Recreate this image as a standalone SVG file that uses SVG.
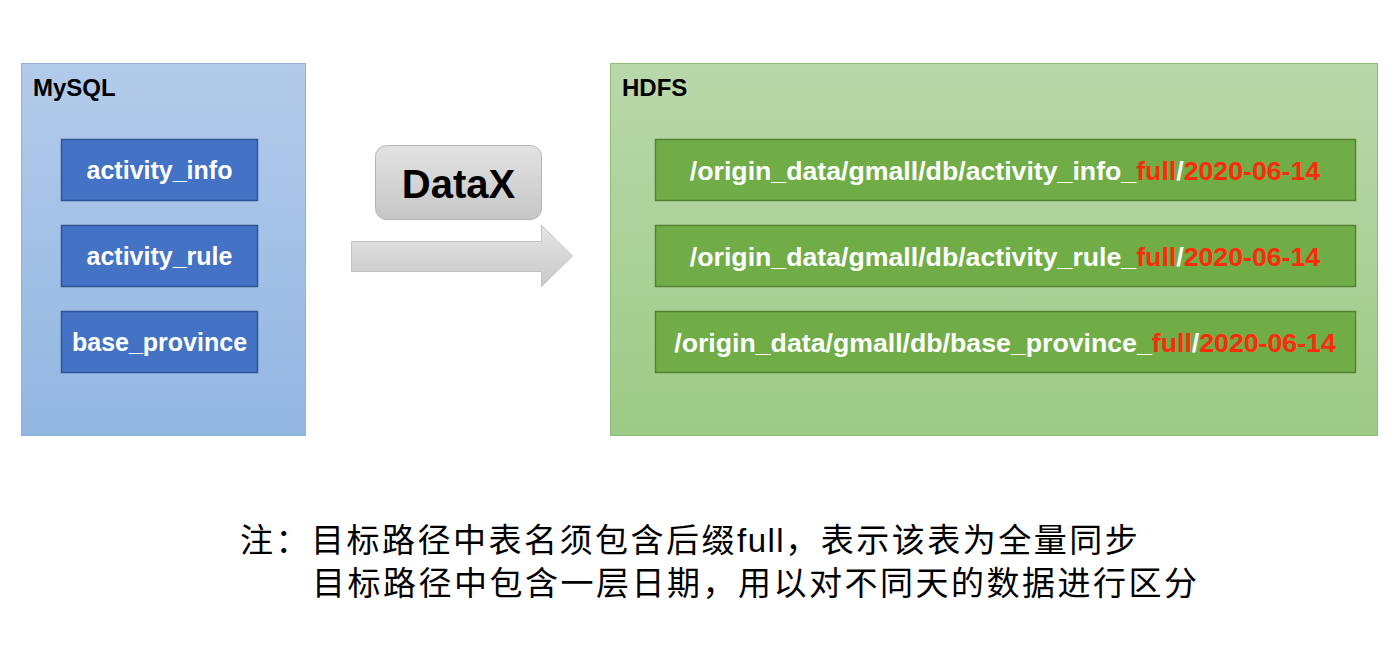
<svg xmlns="http://www.w3.org/2000/svg" width="1398" height="650" viewBox="0 0 1398 650">
<defs>
<linearGradient id="gBlue" x1="0" y1="0" x2="0" y2="1"><stop offset="0" stop-color="#b3cbea"/><stop offset="1" stop-color="#92b6e2"/></linearGradient>
<linearGradient id="gGreen" x1="0" y1="0" x2="0" y2="1"><stop offset="0" stop-color="#b9d8aa"/><stop offset="1" stop-color="#9dca86"/></linearGradient>
<linearGradient id="gGrey" x1="0" y1="0" x2="0" y2="1"><stop offset="0" stop-color="#e2e2e2"/><stop offset="1" stop-color="#c6c6c6"/></linearGradient>
<linearGradient id="gArrow" x1="0" y1="0" x2="0" y2="1"><stop offset="0" stop-color="#e4e4e4"/><stop offset="1" stop-color="#c9c9c9"/></linearGradient>
</defs>
<style>
.title{font-family:"Liberation Sans",Arial,sans-serif;font-weight:bold;font-size:24px;fill:#000}
.tbl{fill:#4472c4;stroke:#2f5597;stroke-width:1.5}
.path{fill:#70ad47;stroke:#548235;stroke-width:1.5}
.lbl{font-family:"Liberation Sans",Arial,sans-serif;font-weight:bold;font-size:25px;fill:#fff;text-anchor:middle}
.plbl{font-family:"Liberation Sans",Arial,sans-serif;font-weight:bold;font-size:26.7px;fill:#fff;text-anchor:middle}
.red{fill:#ff2a0a}
.note{font-family:"Liberation Sans","Noto Sans CJK SC",sans-serif;font-size:33px;letter-spacing:2.5px;fill:#000}
.lat{letter-spacing:1.5px}
</style>
<rect width="1398" height="650" fill="#fff"/>
<g id="mysql">
<rect x="21.5" y="63.5" width="284" height="372" fill="url(#gBlue)" stroke="#8fb1dd" stroke-width="1"/>
<text class="title" x="33" y="96">MySQL</text>
</g>
<g id="activity_info">
<rect class="tbl" x="61.5" y="139.5" width="196" height="61"/>
<text class="lbl" x="159.5" y="179">activity_info</text>
</g>
<g id="activity_rule">
<rect class="tbl" x="61.5" y="225.5" width="196" height="61"/>
<text class="lbl" x="159.5" y="265">activity_rule</text>
</g>
<g id="base_province">
<rect class="tbl" x="61.5" y="311.5" width="196" height="61"/>
<text class="lbl" x="159.5" y="351">base_province</text>
</g>
<g id="datax">
<rect x="375.5" y="145.5" width="166" height="74" rx="11" fill="url(#gGrey)" stroke="#b5b5b5" stroke-width="1"/>
<text x="458.5" y="198" style="font-family:'Liberation Sans',Arial,sans-serif;font-weight:bold;font-size:40px;fill:#000;text-anchor:middle">DataX</text>
</g>
<g id="connectors">
<path d="M351.5 241.5 H541.5 V225.5 L572.5 256 L541.5 286.5 V271.5 H351.5 Z" fill="url(#gArrow)" stroke="#c2c2c2" stroke-width="1"/>
</g>
<g id="hdfs">
<rect x="610.5" y="63.5" width="767" height="372" fill="url(#gGreen)" stroke="#8dbd76" stroke-width="1"/>
<text class="title" x="622" y="96">HDFS</text>
</g>
<g id="path_activity_info">
<rect class="path" x="655.5" y="139.5" width="700" height="61"/>
<text class="plbl" x="1005" y="180">/origin_data/gmall/db/activity_info_<tspan class="red">full</tspan>/<tspan class="red">2020-06-14</tspan></text>
</g>
<g id="path_activity_rule">
<rect class="path" x="655.5" y="225.5" width="700" height="61"/>
<text class="plbl" x="1005" y="266">/origin_data/gmall/db/activity_rule_<tspan class="red">full</tspan>/<tspan class="red">2020-06-14</tspan></text>
</g>
<g id="path_base_province">
<rect class="path" x="655.5" y="311.5" width="700" height="61"/>
<text class="plbl" x="1005" y="352">/origin_data/gmall/db/base_province_<tspan class="red">full</tspan>/<tspan class="red">2020-06-14</tspan></text>
</g>
<g id="note">
<text class="note" x="240" y="552">注：目标路径中表名须包含后缀<tspan class="lat">full</tspan>，表示该表为全量同步</text>
<text class="note" x="312" y="595">目标路径中包含一层日期，用以对不同天的数据进行区分</text>
</g>
</svg>
